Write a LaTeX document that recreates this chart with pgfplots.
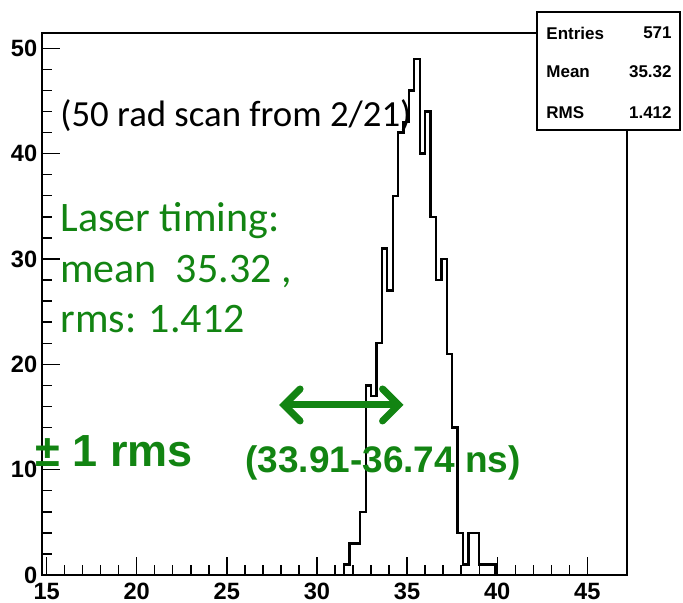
\documentclass[border=0pt]{standalone}
\usepackage{pgfplots}
\pgfplotsset{compat=1.18}
\usepackage{fontspec}
\setmainfont{Liberation Sans}
\newfontfamily\carlito{Carlito}
\usetikzlibrary{arrows.meta}
\definecolor{anngreen}{RGB}{18,132,18}
\begin{document}
\begin{tikzpicture}
\useasboundingbox (0,0) rectangle (341.5pt,301pt);
\begin{axis}[
  at={(21.15pt,13.5pt)}, anchor=south west,
  width=292.35pt, height=271pt, scale only axis,
  xmin=14.76, xmax=47.2, ymin=0, ymax=51.45,
  xtick={15,20,...,45}, ytick={0,10,...,50},
  minor x tick num=4, minor y tick num=4,
  tick align=inside, xtick pos=bottom, ytick pos=left,
  major tick length=9pt, minor tick length=5pt,
  axis line style={line width=0.9pt},
  tick style={black, line width=0.7pt},
  /pgf/number format/assume math mode=true,
  tick label style={font=\fontsize{11.8}{12}\selectfont\bfseries},
  xticklabel style={yshift=-0.5pt},
  yticklabel style={xshift=1pt},
  clip=false,
]
\addplot[const plot mark left, black, line width=1.15pt] coordinates {
(31.5,0) (31.5,1) (31.8,3) (32.1,3) (32.4,6) (32.7,18) (33.0,17)
(33.3,22) (33.6,31) (33.9,27) (34.2,36) (34.5,42) (34.8,43) (35.1,46)
(35.4,49) (35.7,40) (36.0,44) (36.3,34) (36.6,28) (36.9,30) (37.2,21)
(37.5,14) (37.8,4) (38.1,1) (38.4,4) (38.7,4) (39.0,1) (39.3,1)
(39.6,1) (39.9,0)
};
\node[anchor=base west, inner sep=0pt, font=\carlito\fontsize{18.4}{20}\selectfont]
  at (axis cs:15.74,42.55) {(50 rad scan from 2/21)};
\node[anchor=base west, inner sep=0pt, text=anngreen, font=\carlito\fontsize{21}{25}\selectfont]
  at (axis cs:15.74,32.57) {Laser timing:};
\node[anchor=base west, inner sep=0pt, text=anngreen, font=\carlito\fontsize{21}{25}\selectfont]
  at (axis cs:15.74,27.73) {mean\ \ 35.32 ,};
\node[anchor=base west, inner sep=0pt, text=anngreen, font=\carlito\fontsize{21}{25}\selectfont]
  at (axis cs:15.74,22.98) {rms: 1.412};
\node[anchor=base west, inner sep=0pt, text=anngreen, font=\fontsize{22.5}{25}\selectfont\bfseries]
  at (axis cs:14.35,10.26) {± 1 rms};
\node[anchor=base west, inner sep=0pt, text=anngreen, font=\fontsize{18.5}{20}\selectfont\bfseries]
  at (axis cs:26.0,9.69) {(33.91-36.74 ns)};
\draw[anngreen, line width=3.5pt, {Straight Barb[length=8pt,width=16pt,line cap=round]}-{Straight Barb[length=8pt,width=16pt,line cap=round]}]
  (axis cs:27.9,16.14) -- (axis cs:34.8,16.14);
\end{axis}
% statistics box
\draw[line width=0.8pt, fill=white] (268.5pt,236pt) rectangle (340pt,295pt);
\begin{scope}[every node/.style={inner sep=0pt, font=\fontsize{8.5}{10}\selectfont\bfseries}]
\node[anchor=west] at (273pt,284.5pt) {Entries};
\node[anchor=east] at (336pt,284.5pt) {571};
\node[anchor=west] at (273pt,265pt) {Mean};
\node[anchor=east] at (336pt,265pt) {35.32};
\node[anchor=west] at (273pt,244.5pt) {RMS};
\node[anchor=east] at (336pt,244.5pt) {1.412};
\end{scope}
\end{tikzpicture}
\end{document}
